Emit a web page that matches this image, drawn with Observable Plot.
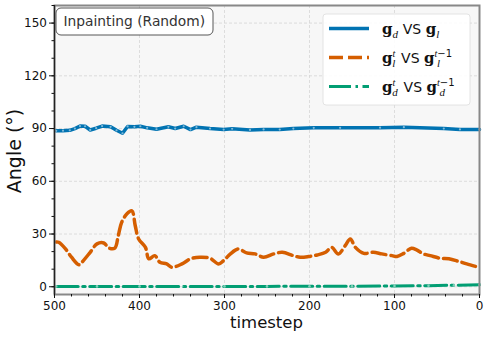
<!DOCTYPE html>
<html><head>
<meta charset="utf-8">
<script src="https://cdn.jsdelivr.net/npm/d3@7"></script>
<script src="https://cdn.jsdelivr.net/npm/@observablehq/plot@0.6"></script>
<style>body{margin:0;background:#fff} svg{font-family:"DejaVu Sans"}</style>
</head><body><div id="chart"></div>
<script>
// ---- data ----
const blueT = [498, 490, 482, 476, 470, 464, 458, 451, 444, 434, 427, 420, 414, 406, 399, 391, 380, 366, 358, 348, 340, 333, 317, 301, 291, 270, 254, 235, 219, 195, 164, 117, 89, 42, 23, 0];
const blueV = [88.7, 88.8, 89, 90, 91.4, 91.3, 89.2, 90.2, 91.4, 91, 89, 87.3, 91.2, 91, 91.3, 90.4, 89.6, 91, 90, 91.3, 89.4, 90.8, 90, 89.4, 89.9, 89.2, 89.5, 89.4, 90, 90.4, 90.4, 90.5, 90.8, 90, 89.5, 89.5];
const orangeT = [498, 495, 487, 480, 471, 466, 458, 450, 442, 436, 429, 425, 421, 415, 409, 405, 401, 393, 389, 382, 376, 368, 362, 350, 340, 329, 317, 307, 301, 293, 284, 274, 264, 254, 242, 232, 219, 211, 201, 191, 181, 174, 166, 158, 152, 146, 136, 125, 115, 103, 97, 89, 80, 74, 66, 58, 46, 36, 25, 15, 0];
const orangeV = [25.5, 25.3, 21.5, 16.8, 12.5, 14.9, 19.6, 24.4, 24.9, 22, 22, 29, 36.6, 41.4, 43.2, 34.7, 27.2, 22.4, 15.9, 17.7, 13.9, 13, 11.1, 13, 15.9, 16.8, 16.2, 13, 14.9, 18.7, 21.5, 19.3, 18.7, 16.8, 18.7, 19.6, 17.7, 16.8, 17.2, 18.1, 19.6, 22.4, 18.7, 23.4, 27.2, 22.4, 19, 19.6, 18.7, 17.7, 17.2, 19, 21.9, 21, 18.7, 17.7, 16.2, 15.9, 14.5, 13, 11];
const greenT = [498, 450, 400, 350, 300, 250, 200, 150, 100, 60, 30, 0];
const greenV = [0.2, 0.2, 0.2, 0.2, 0.2, 0.2, 0.3, 0.3, 0.4, 0.6, 0.9, 1.1];
const xTicks = [500, 400, 300, 200, 100, 0];
const yTicks = [0, 30, 60, 90, 120, 150];
const xMinor = d3.range(0, 501, 20);
const yMinor = d3.range(0, 161, 10);
const colors = ["#0173b2", "#d55e00", "#029e73"];
const titleText = "Inpainting (Random)";
const xLabel = "timestep";
const yLabel = "Angle (°)";

const rows = (t, v) => t.map((x, i) => ({t: x, v: v[i]}));
const blue = rows(blueT, blueV), orange = rows(orangeT, orangeV), green = rows(greenT, greenV);

const gridStyle = {stroke: "#d6d6d6", strokeOpacity: 1, strokeDasharray: "3,2", strokeWidth: 0.8};
const svg = Plot.plot({
  width: 488, height: 338,
  marginLeft: 54, marginRight: 9, marginTop: 5, marginBottom: 44,
  x: {domain: [500, 0]},
  y: {domain: [-4.4, 160]},
  style: {fontFamily: "DejaVu Sans", fontSize: "12px", color: "#111", background: "white", overflow: "visible"},
  marks: [
    Plot.frame({fill: "#f7f7f7"}),
    Plot.gridX(xTicks, gridStyle),
    Plot.gridY(yTicks, gridStyle),
    Plot.line(green, {x: "t", y: "v", stroke: colors[2], strokeWidth: 3, strokeDasharray: "22,4.5,2.5,4.5"}),
    Plot.dot(green, {x: "t", y: "v", r: 1.3, fill: "white", fillOpacity: 0.5}),
    Plot.line(orange, {x: "t", y: "v", stroke: colors[1], strokeWidth: 3.5, strokeDasharray: "14,5", curve: "catmull-rom"}),
    Plot.line(blue, {x: "t", y: "v", stroke: colors[0], strokeWidth: 3.5}),
    Plot.dot(blue, {x: "t", y: "v", r: 1.1, fill: "white", fillOpacity: 0.5}),
    Plot.frame({stroke: "#888", strokeWidth: 2}),
    Plot.ruleX([500], {stroke: "#222", strokeWidth: 1.3}),
    Plot.axisX(xTicks, {tickSize: 4, tickPadding: 3, label: null, fontSize: 12}),
    Plot.axisX(xMinor, {tickSize: 2.5, tickFormat: () => "", label: null}),
    Plot.axisY(yTicks, {tickSize: 5, tickPadding: 2.5, label: null, fontSize: 12}),
    Plot.axisY(yMinor, {tickSize: 2.5, tickFormat: () => "", label: null})
  ]
});
document.getElementById("chart").appendChild(svg);

const s = d3.select(svg);
// axis labels
s.append("text").attr("x", 266.5).attr("y", 328).attr("text-anchor", "middle")
  .attr("font-size", 16.5).attr("fill", "#111").text(xLabel);
s.append("text").attr("transform", "translate(20.7,151) rotate(-90)").attr("text-anchor", "middle")
  .attr("font-size", 19).attr("fill", "#111").text(yLabel);

// title box
s.append("rect").attr("x", 56).attr("y", 8).attr("width", 157).attr("height", 27).attr("rx", 5)
  .attr("fill", "white").attr("stroke", "#444").attr("stroke-width", 0.9);
s.append("text").attr("x", 63.5).attr("y", 26).attr("text-anchor", "start")
  .attr("font-size", 13.8).attr("fill", "#333").text(titleText);

// legend
const lg = s.append("g").attr("text-anchor", "start");
lg.append("rect").attr("x", 323).attr("y", 14).attr("width", 147).attr("height", 91).attr("rx", 3)
  .attr("fill", "white").attr("fill-opacity", 0.9).attr("stroke", "#ddd").attr("stroke-width", 0.8);
const dashes = [null, "14,5", "22,4.5,2.5,4.5"];
const widths = [3.5, 3.5, 3];
const ys = [28.5, 57.5, 86.5];
ys.forEach((y, i) => {
  lg.append("line").attr("x1", 329).attr("x2", 369).attr("y1", y).attr("y2", y)
    .attr("stroke", colors[i]).attr("stroke-width", widths[i]).attr("stroke-dasharray", dashes[i]);
});
const serif = "DejaVu Serif";
const it = "Liberation Serif";
function gsym(t, sub, sup) {
  t.append("tspan").attr("font-family", serif).attr("font-weight", "bold").attr("font-size", 15).text("g");
  if (sup) {
    const su = t.append("tspan").attr("font-size", 10).attr("dy", -6);
    su.append("tspan").attr("font-family", it).attr("font-style", "italic").text("t");
    if (sup === 2) su.append("tspan").attr("font-family", "DejaVu Sans").attr("font-size", 10).text("−1");
    const back = sup === 2 ? -15 : -3;
    t.append("tspan").attr("font-family", it).attr("font-style", "italic").attr("font-size", 11)
      .attr("dx", back).attr("dy", 10).text(sub);
    t.append("tspan").attr("dy", -4).attr("dx", sup === 2 ? 12 : 1).attr("font-size", 1).text(" ");
  } else {
    t.append("tspan").attr("font-family", it).attr("font-style", "italic").attr("font-size", 11)
      .attr("dy", 4).text(sub);
    t.append("tspan").attr("dy", -4).attr("font-size", 1).text(" ");
  }
}
const rowsL = [["d", "l", 0], ["l", "l", 1], ["d", "d", 1]];
rowsL.forEach(([a, b, sup], i) => {
  const t = lg.append("text").attr("x", 382).attr("y", ys[i] + 5).attr("fill", "#111");
  gsym(t, a, sup ? 1 : 0);
  t.append("tspan").attr("font-size", 14).attr("font-family", "DejaVu Sans").text(" VS ");
  gsym(t, b, sup ? 2 : 0);
});
</script>
</body></html>
